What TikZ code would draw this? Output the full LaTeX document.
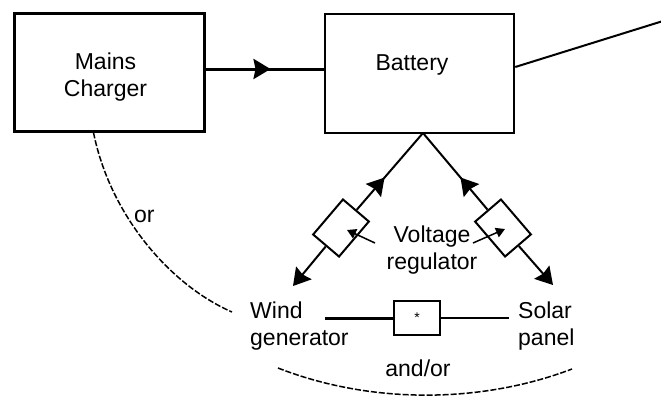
\documentclass[tikz,border=0pt]{standalone}
\usepackage{fontspec}
\setmainfont{Liberation Sans}
\usetikzlibrary{arrows.meta,decorations.markings,calc}
\tikzset{myhead/.tip={Stealth[length=17pt,width=20pt,inset=2pt]}}
\begin{document}
\begin{tikzpicture}[x=1pt,y=-1pt,
  blk/.style={draw, line width=3pt, inner sep=0pt},
  txt/.style={inner sep=0pt, font=\fontsize{23}{27}\selectfont},
  reg/.style={draw, line width=2pt, minimum width=46pt, minimum height=34pt, inner sep=0pt, fill=white},
  wire/.style={line width=2pt},
  dashcurve/.style={line width=1.5pt, dash pattern=on 6pt off 2pt},
  ptr/.style={line width=1.5pt, -{Triangle[length=9pt,width=10pt]}},
  midarrow/.style={postaction={decorate}, decoration={markings, mark=at position #1 with {\arrow{myhead}}}}
]
\useasboundingbox[fill=white] (0,0) rectangle (661,397);

% boxes
\node[blk, minimum width=190pt, minimum height=118pt] (mc) at (109,72) {};
\node[blk, line width=2.5pt, minimum width=189pt, minimum height=119pt] (bat) at (419.5,73.5) {};
\node[txt, align=center, anchor=base] (mct) at (105.5,96) {Mains\\Charger};
\node[txt, anchor=base] (batt) at (412,70) {Battery};

% charger -> battery
\coordinate (hy) at (0,69);
\draw[line width=3pt, midarrow=0.55] (mc.east |- hy) -- (bat.west |- hy);

% battery output line
\coordinate (by) at (0,67);
\coordinate (rend) at (663,21);
\draw[wire] (bat.east |- by) -- (rend);

% regulators
\coordinate (apex) at (423,133);
\coordinate (wend) at (293,286);
\coordinate (send) at (553,285);
\node[reg, rotate=49.6] (rl) at (341,228) {};
\node[reg, rotate=-49.4] (rr) at (503,228) {};
\draw[wire, midarrow=0.42] (rl) -- (apex);
\draw[wire, -{myhead}] (rl) -- (wend);
\draw[wire, midarrow=0.42] (rr) -- (apex);
\draw[wire, -{myhead}] (rr) -- (send);

\node[txt, align=center, anchor=base] (vr) at (432,269) {Voltage\\regulator};
\coordinate (pl) at (375,243);
\coordinate (pr) at (473,243);
\draw[ptr] (pl) -- ($(rl.center)+(6,2)$);
\draw[ptr] (pr) -- ($(rr.center)+(2,1)$);

% sources
\node[txt, align=left, anchor=base west] (wg) at (250,345) {Wind\\generator};
\node[txt, align=left, anchor=base west] (sp) at (518,345) {Solar\\panel};
\node[draw, line width=1.5pt, minimum width=46pt, minimum height=34pt, inner sep=0pt, font=\fontsize{14}{14}\selectfont] (sw) at (417,318) {*};
\coordinate (wl) at (325,318);
\coordinate (sr) at (509,318);
\draw[line width=3pt] (wl) -- (sw.west);
\draw[line width=1.3pt] (sw.east) -- (sr);

\node[txt, anchor=base] (ando) at (418,376) {and/or};
\node[txt, anchor=base west] (ort) at (134,222) {or};

% dashed curves
\coordinate (la) at ($(mc.south west)+(81,0)$);
\coordinate (lb) at (232,312);
\draw[dashcurve] (la) .. controls (110,215) and (170,285) .. (lb);
\coordinate (bl) at (278,368);
\coordinate (br) at (572,369);
\draw[dashcurve] (bl) .. controls (370,404) and (480,404) .. (br);
\end{tikzpicture}
\end{document}
